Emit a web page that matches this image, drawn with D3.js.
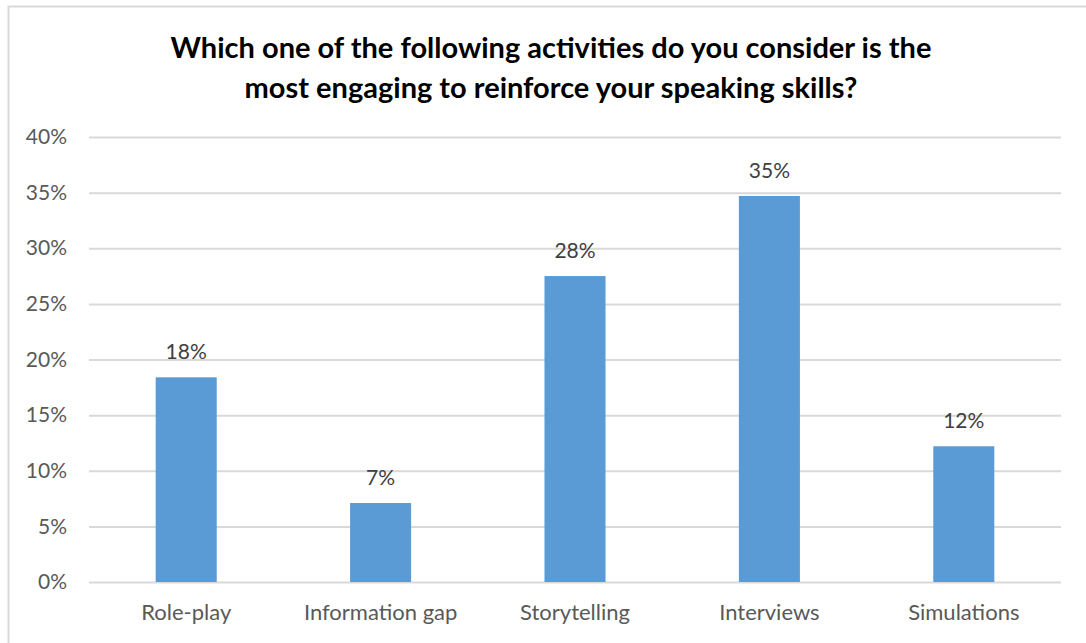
<!DOCTYPE html>
<html>

<head>
  <meta charset="utf-8">
  <title>Speaking activities</title>
  <style>
    body { margin: 0; background: #fff; }
    text { font-family: Lato, "Open Sans", sans-serif; }
  </style>
</head>

<body>
  <div id="chart"></div>

  <script src="https://cdn.jsdelivr.net/npm/d3@7"></script>
  <script>
    // data
    const categories = ["Role-play", "Information gap", "Storytelling", "Interviews", "Simulations"];
    const values = [18.4, 7.1, 27.5, 34.7, 12.2];
    const labels = ["18%", "7%", "28%", "35%", "12%"];
    const yTicks = [0, 5, 10, 15, 20, 25, 30, 35, 40];
    const titleLines = [
      "Which one of the following activities do you consider is the",
      "most engaging to reinforce your speaking skills?"
    ];

    const W = 1086, H = 643;
    const margin = { top: 137, right: 25, bottom: 61, left: 89 };
    const width = W - margin.left - margin.right,
      height = H - margin.top - margin.bottom;

    const root = d3.select("#chart").append("svg")
      .attr("width", W)
      .attr("height", H);

    // chart frame
    root.append("rect")
      .attr("x", 8.5).attr("y", 6.5)
      .attr("width", W).attr("height", H)
      .attr("fill", "none")
      .attr("stroke", "#d9d9d9")
      .attr("stroke-width", 2);

    // title
    root.append("g")
      .selectAll("text")
      .data(titleLines)
      .enter().append("text")
      .attr("x", 551)
      .attr("y", (d, i) => 58 + i * 40)
      .attr("text-anchor", "middle")
      .attr("font-size", 29)
      .attr("font-weight", "bold")
      .attr("fill", "#000")
      .text(d => d);

    const svg = root.append("g")
      .attr("transform", `translate(${margin.left},${margin.top})`);

    const x = d3.scaleBand()
      .domain(categories)
      .range([0, width])
      .paddingInner(0.686)
      .paddingOuter(0.343);

    const y = d3.scaleLinear()
      .domain([0, 40])
      .range([height, 0]);

    // gridlines + y labels
    const yAxis = svg.append("g")
      .call(d3.axisLeft(y)
        .tickValues(yTicks)
        .tickSize(-width)
        .tickPadding(22)
        .tickFormat(d => d + "%"));
    yAxis.select(".domain").remove();
    yAxis.selectAll(".tick line").attr("stroke", "#d9d9d9").attr("stroke-width", 2);
    yAxis.selectAll(".tick text")
      .attr("font-size", 21)
      .attr("fill", "#595959")
      .style("font-family", "Lato, sans-serif");

    // x labels
    const xAxis = svg.append("g")
      .attr("transform", `translate(0,${height})`)
      .call(d3.axisBottom(x).tickSize(0).tickPadding(22));
    xAxis.select(".domain").remove();
    xAxis.selectAll(".tick text")
      .attr("font-size", 22)
      .attr("fill", "#595959")
      .style("font-family", "Lato, sans-serif");

    // bars
    svg.append("g")
      .selectAll("rect")
      .data(values)
      .enter().append("rect")
      .attr("x", (d, i) => x(categories[i]))
      .attr("y", d => y(d))
      .attr("width", x.bandwidth())
      .attr("height", d => height - y(d))
      .attr("fill", "#5b9bd5");

    // value labels
    svg.append("g")
      .selectAll("text")
      .data(values)
      .enter().append("text")
      .attr("x", (d, i) => x(categories[i]) + x.bandwidth() / 2)
      .attr("y", d => y(d) - 18)
      .attr("text-anchor", "middle")
      .attr("font-size", 21)
      .attr("fill", "#404040")
      .text((d, i) => labels[i]);
  </script>

</body>

</html>
